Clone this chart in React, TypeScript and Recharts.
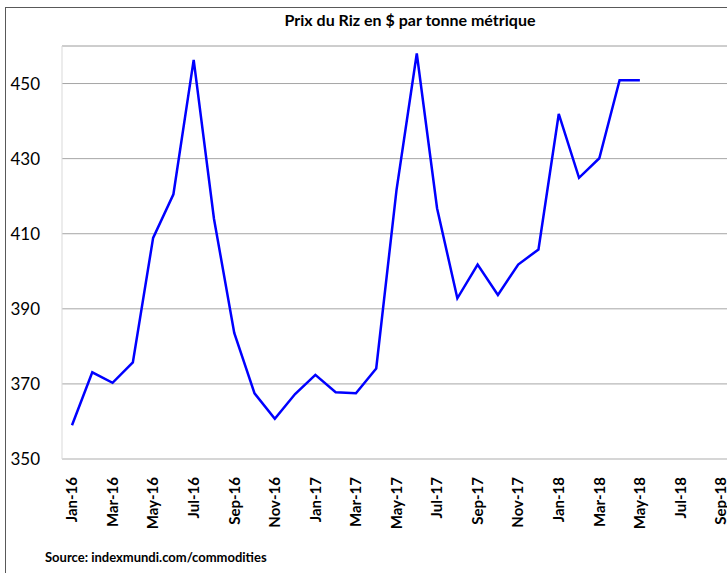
import React from "react";
import { LineChart, Line, XAxis, YAxis, CartesianGrid, ReferenceLine } from "recharts";

const months = [
  "Jan-16", "Feb-16", "Mar-16", "Apr-16", "May-16", "Jun-16", "Jul-16", "Aug-16", "Sep-16", "Oct-16", "Nov-16", "Dec-16",
  "Jan-17", "Feb-17", "Mar-17", "Apr-17", "May-17", "Jun-17", "Jul-17", "Aug-17", "Sep-17", "Oct-17", "Nov-17", "Dec-17",
  "Jan-18", "Feb-18", "Mar-18", "Apr-18", "May-18", "Jun-18", "Jul-18", "Aug-18", "Sep-18",
];

const prices: (number | null)[] = [
  359, 373.1, 370.3, 375.7, 408.9, 420.5, 456.3, 414, 383.6, 367.5, 360.7, 367.3,
  372.4, 367.8, 367.5, 374.1, 421.6, 458, 416.8, 392.8, 401.8, 393.7, 401.8, 405.8,
  441.9, 424.9, 430.1, 450.9, 450.9, null, null, null, null,
];

const yTicks = [350, 370, 390, 410, 430, 450];

const data = months.map((m, i) => ({ month: m, price: prices[i] }));

const font = "Lato, 'Open Sans', sans-serif";

function MonthTick(props: any) {
  const { x, y, payload } = props;
  return (
    <text
      x={x}
      y={y + 10}
      dy="0.35em"
      transform={`rotate(-90, ${x}, ${y + 10})`}
      textAnchor="end"
      fontFamily={font}
      fontWeight="bold"
      fontSize={15}
      fill="#000"
    >
      {payload.value}
    </text>
  );
}

export default function App() {
  return (
    <div style={{ position: "absolute", left: 0, top: 0, width: 727, height: 573, overflow: "hidden", background: "#fff" }}>
      <div style={{ position: "absolute", left: 5, top: 7, width: 800, height: 600, border: "1px solid #595959" }} />
      <div
        style={{
          position: "absolute",
          left: 0,
          top: 10,
          width: 820,
          textAlign: "center",
          fontFamily: font,
          fontWeight: "bold",
          fontSize: 16,
          color: "#000",
        }}
      >
        Prix du Riz en $ par tonne métrique
      </div>
      <div style={{ position: "absolute", left: 0, top: 0 }}>
        <LineChart width={731} height={573} data={data} margin={{ top: 46, right: 0, left: 0, bottom: 0 }}>
          <CartesianGrid vertical={false} stroke="#a6a6a6" />
          <ReferenceLine y={460} stroke="#c8c8c8" />
          <XAxis
            dataKey="month"
            interval={1}
            tickLine={false}
            stroke="#d9d9d9"
            height={114}
            padding={{ left: 10, right: 10 }}
            tick={<MonthTick />}
          />
          <YAxis
            domain={[350, 460]}
            ticks={yTicks}
            width={62}
            tickLine={false}
            stroke="#d9d9d9"
            tick={{ fill: "#000", fontSize: 17, fontFamily: font }}
            tickMargin={16}
            allowDataOverflow
          />
          <Line
            type="linear"
            dataKey="price"
            stroke="#0000ff"
            strokeWidth={2.5}
            dot={false}
            connectNulls={false}
            isAnimationActive={false}
          />
        </LineChart>
      </div>
      <div
        style={{
          position: "absolute",
          left: 45,
          top: 549,
          fontFamily: font,
          fontWeight: "bold",
          fontSize: 13,
          color: "#000",
        }}
      >
        Source: indexmundi.com/commodities
      </div>
    </div>
  );
}
